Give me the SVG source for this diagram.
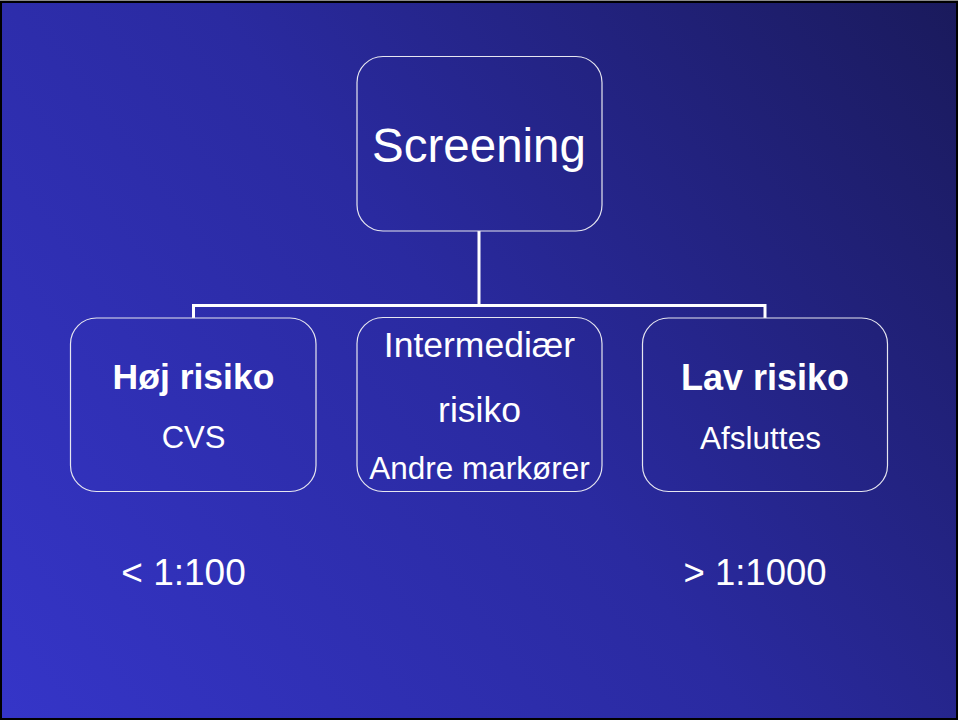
<svg xmlns="http://www.w3.org/2000/svg" width="958" height="720" viewBox="0 0 958 720">
  <defs>
    <linearGradient id="bg" gradientUnits="userSpaceOnUse" x1="2" y1="718" x2="956" y2="2">
      <stop offset="0" stop-color="#3535c8"/>
      <stop offset="0.5" stop-color="#2a2aa0"/>
      <stop offset="1" stop-color="#1a1a5c"/>
    </linearGradient>
    <style>
      .box { fill: none; stroke: #e6e6f0; stroke-width: 1.2; }
      .conn { fill: none; stroke: #ffffff; stroke-width: 3; }
      text { fill: #ffffff; font-family: "Liberation Sans", Arial, sans-serif; text-anchor: middle; }
      .b { font-weight: bold; }
    </style>
  </defs>
  <rect x="0" y="0" width="958" height="720" fill="#000000"/>
  <rect x="0" y="0" width="958" height="1" fill="#8a8a8a"/>
  <rect x="2" y="3" width="954" height="715" fill="url(#bg)"/>

  <g id="connectors">
    <path class="conn" d="M479,231 V305.5 M193.5,305.5 H765 M193.5,304 V318 M765,304 V318"/>
  </g>

  <g id="screening">
    <rect class="box" x="357" y="56.5" width="245" height="174.5" rx="26"/>
    <text x="479" y="162" font-size="47.5">Screening</text>
  </g>

  <g id="hoj-risiko">
    <rect class="box" x="70.5" y="318" width="245.5" height="173.5" rx="26"/>
    <text class="b" x="193.5" y="389" font-size="35.5">Høj risiko</text>
    <text x="193.5" y="448" font-size="31">CVS</text>
  </g>

  <g id="intermediaer-risiko">
    <rect class="box" x="357" y="317.5" width="245" height="174" rx="26"/>
    <text x="479.5" y="357" font-size="35.5">Intermediær</text>
    <text x="479.5" y="422" font-size="35.5">risiko</text>
    <text x="479.5" y="478.5" font-size="31.5">Andre markører</text>
  </g>

  <g id="lav-risiko">
    <rect class="box" x="642.5" y="318" width="245" height="173.5" rx="26"/>
    <text class="b" x="765" y="390" font-size="36">Lav risiko</text>
    <text x="760.5" y="448.5" font-size="31.5">Afsluttes</text>
  </g>

  <text x="183.5" y="585" font-size="37">&lt; 1:100</text>
  <text x="755" y="585" font-size="36.5">&gt; 1:1000</text>
</svg>
